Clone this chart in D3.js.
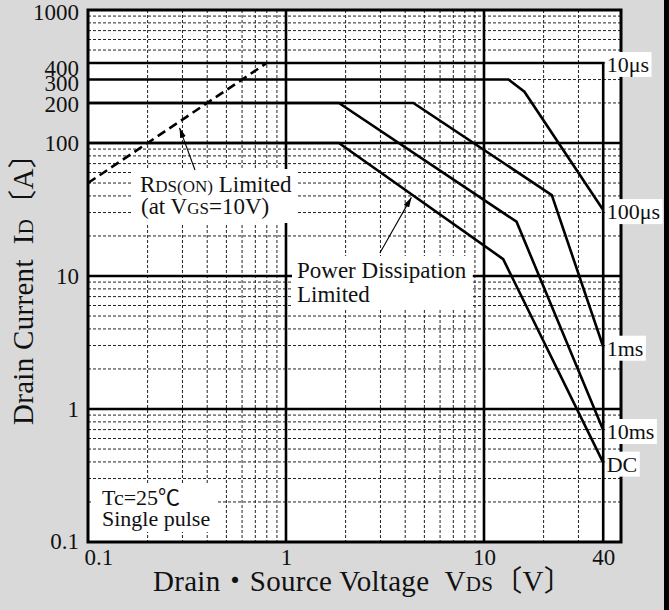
<!DOCTYPE html>
<html>
<head>
<meta charset="utf-8">
<script src="https://cdn.jsdelivr.net/npm/d3@7"></script>
<style>
  html, body { margin: 0; padding: 0; background: #d9d9d9; }
  svg { display: block; }
  text { font-family: "Liberation Serif", "Times New Roman", "Noto Sans CJK JP", serif; fill: #111; }
</style>
</head>
<body>
<script>
'use strict';

// axis ticks
const xTicks = [0.1, 1, 10, 40];
const yTicks = [0.1, 1, 10, 100, 200, 300, 400, 1000];
const xDecades = [1, 10];
const yDecades = [1, 10, 100];

// safe operating area curves [VDS, ID]
const curveNames = ['10μs', '100μs', '1ms', '10ms', 'DC'];
const curve10us = [[0.1, 400], [40, 400], [40, 0.1]];
const curve100us = [[0.1, 300], [13.3, 300], [16.0, 243], [40, 31.3]];
const curve1ms = [[0.1, 200], [4.4, 200], [22.0, 40.6], [40, 2.94]];
const curve10ms = [[0.1, 200], [1.85, 200], [14.6, 25.6], [40, 0.695]];
const curveDC = [[0.1, 100], [1.85, 100], [12.5, 13.4], [40, 0.395]];
const labelAt = [400, 31.3, 2.94, 0.695, 0.395];

// RDS(on) limit line (dashed)
const rdsLine = [[0.1, 50], [0.8, 400]];

// annotation arrows [tail, tip]
const rdsArrow = [[0.347, 62.7], [0.29, 130]];
const powerArrow = [[2.98, 14.9], [4.3, 39]];

let width = 669;
let height = 610;
let svg = d3.select('body').append('svg')
  .attr('width', width)
  .attr('height', height);

let x = d3.scaleLog().domain([0.1, 49.2]).range([88, 621]);
let y = d3.scaleLog().domain([0.1, 1000]).range([542, 10]);

svg.append('rect')
  .attr('x', 0).attr('y', 0).attr('width', width).attr('height', height)
  .attr('fill', '#d9d9d9');
svg.append('rect')
  .attr('x', 664).attr('y', 0).attr('width', 5).attr('height', height)
  .attr('fill', '#000');

svg.append('rect')
  .attr('x', x(0.1)).attr('y', y(1000))
  .attr('width', x.range()[1] - x(0.1)).attr('height', y(0.1) - y(1000))
  .attr('fill', '#fff');

// minor dashed grid
let xMinor = [];
[0.1, 1, 10].forEach(d => {
  for (let m = 2; m <= 9; m++) {
    let v = m * d;
    if (v < x.domain()[1] && v !== 40) xMinor.push(v);
  }
});
let yMinor = [];
[0.1, 1, 10, 100].forEach(d => {
  for (let m = 2; m <= 9; m++) yMinor.push(m * d);
});

let grid = svg.append('g');
grid.selectAll('.vminor')
  .data(xMinor)
  .enter()
  .append('line')
  .attr('x1', d => x(d)).attr('x2', d => x(d))
  .attr('y1', y(1000)).attr('y2', y(0.1))
  .attr('stroke', '#222').attr('stroke-width', 1)
  .attr('stroke-dasharray', '3,2');
grid.selectAll('.hminor')
  .data(yMinor)
  .enter()
  .append('line')
  .attr('x1', x(0.1)).attr('x2', x.range()[1])
  .attr('y1', d => y(d)).attr('y2', d => y(d))
  .attr('stroke', '#222').attr('stroke-width', 1)
  .attr('stroke-dasharray', '3,2');

// decade lines
grid.selectAll('.vmajor')
  .data(xDecades)
  .enter()
  .append('line')
  .attr('x1', d => x(d)).attr('x2', d => x(d))
  .attr('y1', y(1000)).attr('y2', y(0.1))
  .attr('stroke', '#000').attr('stroke-width', 2.6);
grid.selectAll('.hmajor')
  .data(yDecades)
  .enter()
  .append('line')
  .attr('x1', x(0.1)).attr('x2', x.range()[1])
  .attr('y1', d => y(d)).attr('y2', d => y(d))
  .attr('stroke', '#000').attr('stroke-width', 2.6);

// curves
let line = d3.line()
  .x(d => x(d[0]))
  .y(d => y(d[1]));

let curves = [curve10us, curve100us, curve1ms, curve10ms, curveDC];
svg.selectAll('.curve')
  .data(curves)
  .enter()
  .append('path')
  .attr('d', d => line(d))
  .attr('fill', 'none')
  .attr('stroke', '#000')
  .attr('stroke-width', 2.6)
  .attr('stroke-linejoin', 'miter');

svg.append('path')
  .datum(rdsLine)
  .attr('d', line)
  .attr('fill', 'none')
  .attr('stroke', '#000')
  .attr('stroke-width', 2.6)
  .attr('stroke-dasharray', '9,5');

// frame
svg.append('rect')
  .attr('x', x(0.1)).attr('y', y(1000))
  .attr('width', x.range()[1] - x(0.1)).attr('height', y(0.1) - y(1000))
  .attr('fill', 'none')
  .attr('stroke', '#000')
  .attr('stroke-width', 3);

// label boxes with white background
function boxedText(g, padX, padY) {
  let b = g.node().getBBox();
  g.insert('rect', ':first-child')
    .attr('x', b.x - padX[0]).attr('y', b.y - padY[0])
    .attr('width', b.width + padX[0] + padX[1])
    .attr('height', b.height + padY[0] + padY[1])
    .attr('fill', '#fff');
}

let rdsLabel = svg.append('g').attr('font-size', 23);
let r1 = rdsLabel.append('text').attr('x', 140).attr('y', 192);
r1.append('tspan').text('R');
r1.append('tspan').attr('font-size', 17).text('DS(ON)');
r1.append('tspan').text('\u00a0Limited');
let r2 = rdsLabel.append('text').attr('x', 141).attr('y', 214);
r2.append('tspan').text('(at V');
r2.append('tspan').attr('font-size', 17).text('GS');
r2.append('tspan').text('=10V)');
boxedText(rdsLabel, [8, 6], [3, 4]);

let pdLabel = svg.append('g').attr('font-size', 23);
pdLabel.append('text').attr('x', 297).attr('y', 278).text('Power Dissipation');
pdLabel.append('text').attr('x', 297).attr('y', 302).text('Limited');
boxedText(pdLabel, [5, 6], [2, 3]);

let tcLabel = svg.append('g').attr('font-size', 22);
tcLabel.append('text').attr('x', 102).attr('y', 505).text('Tc=25℃');
tcLabel.append('text').attr('x', 102).attr('y', 526).text('Single pulse');
boxedText(tcLabel, [9, 7], [1, 1]);

curveNames.forEach((name, i) => {
  let g = svg.append('g').attr('font-size', 22);
  g.append('text')
    .attr('x', x(40) + 3.5)
    .attr('y', y(labelAt[i]) + 9)
    .text(name);
  boxedText(g, [1.5, 2.5], [0, 0]);
});

// arrows
let defs = svg.append('defs');
defs.append('marker')
  .attr('id', 'head')
  .attr('viewBox', '0 0 10 6')
  .attr('refX', 10).attr('refY', 3)
  .attr('markerWidth', 10).attr('markerHeight', 6)
  .attr('markerUnits', 'userSpaceOnUse')
  .attr('orient', 'auto')
  .append('path')
  .attr('d', 'M0,0 L10,3 L0,6 Z')
  .attr('fill', '#000');

svg.selectAll('.arrow')
  .data([rdsArrow, powerArrow])
  .enter()
  .append('path')
  .attr('d', d => line(d))
  .attr('stroke', '#000')
  .attr('stroke-width', 1.1)
  .attr('fill', 'none')
  .attr('marker-end', 'url(#head)');

// axes
let yAxis = d3.axisLeft(y)
  .tickValues(yTicks)
  .tickSize(0)
  .tickPadding(9)
  .tickFormat(d3.format('~g'));
let yg = svg.append('g')
  .attr('transform', 'translate(' + x(0.1) + ',0)')
  .call(yAxis);
let yShift = {1000: 2, 400: 5, 300: 4, 200: 1.5, 0.1: -1};
yg.selectAll('text')
  .attr('transform', d => 'translate(0,' + (yShift[d] || 0) + ')');

let xAxis = d3.axisBottom(x)
  .tickValues(xTicks)
  .tickSize(0)
  .tickPadding(7)
  .tickFormat(d3.format('~g'));
let xg = svg.append('g')
  .attr('transform', 'translate(0,' + y(0.1) + ')')
  .call(xAxis);
xg.selectAll('text')
  .filter(d => d === 0.1)
  .attr('text-anchor', 'start')
  .attr('x', -4);

[yg, xg].forEach(g => {
  g.select('.domain').remove();
  g.attr('font-size', 23)
    .attr('font-family', '"Liberation Serif", "Times New Roman", serif');
  g.selectAll('text').attr('fill', '#111');
});

// axis titles
let xTitle = svg.append('text')
  .attr('x', 153)
  .attr('y', 591)
  .attr('font-size', 29)
  .attr('letter-spacing', 0.3);
xTitle.append('tspan').text('Drain・Source Voltage\u00a0\u00a0V');
xTitle.append('tspan').attr('font-size', 21).text('DS');
xTitle.append('tspan').text('〔V〕');

let yTitle = svg.append('text')
  .attr('transform', 'translate(33,425)rotate(-90)')
  .attr('font-size', 29)
  .attr('letter-spacing', 0.3);
yTitle.append('tspan').text('Drain Current\u00a0\u00a0I');
yTitle.append('tspan').attr('font-size', 21).text('D');
yTitle.append('tspan').text('〔A〕');
</script>
</body>
</html>
